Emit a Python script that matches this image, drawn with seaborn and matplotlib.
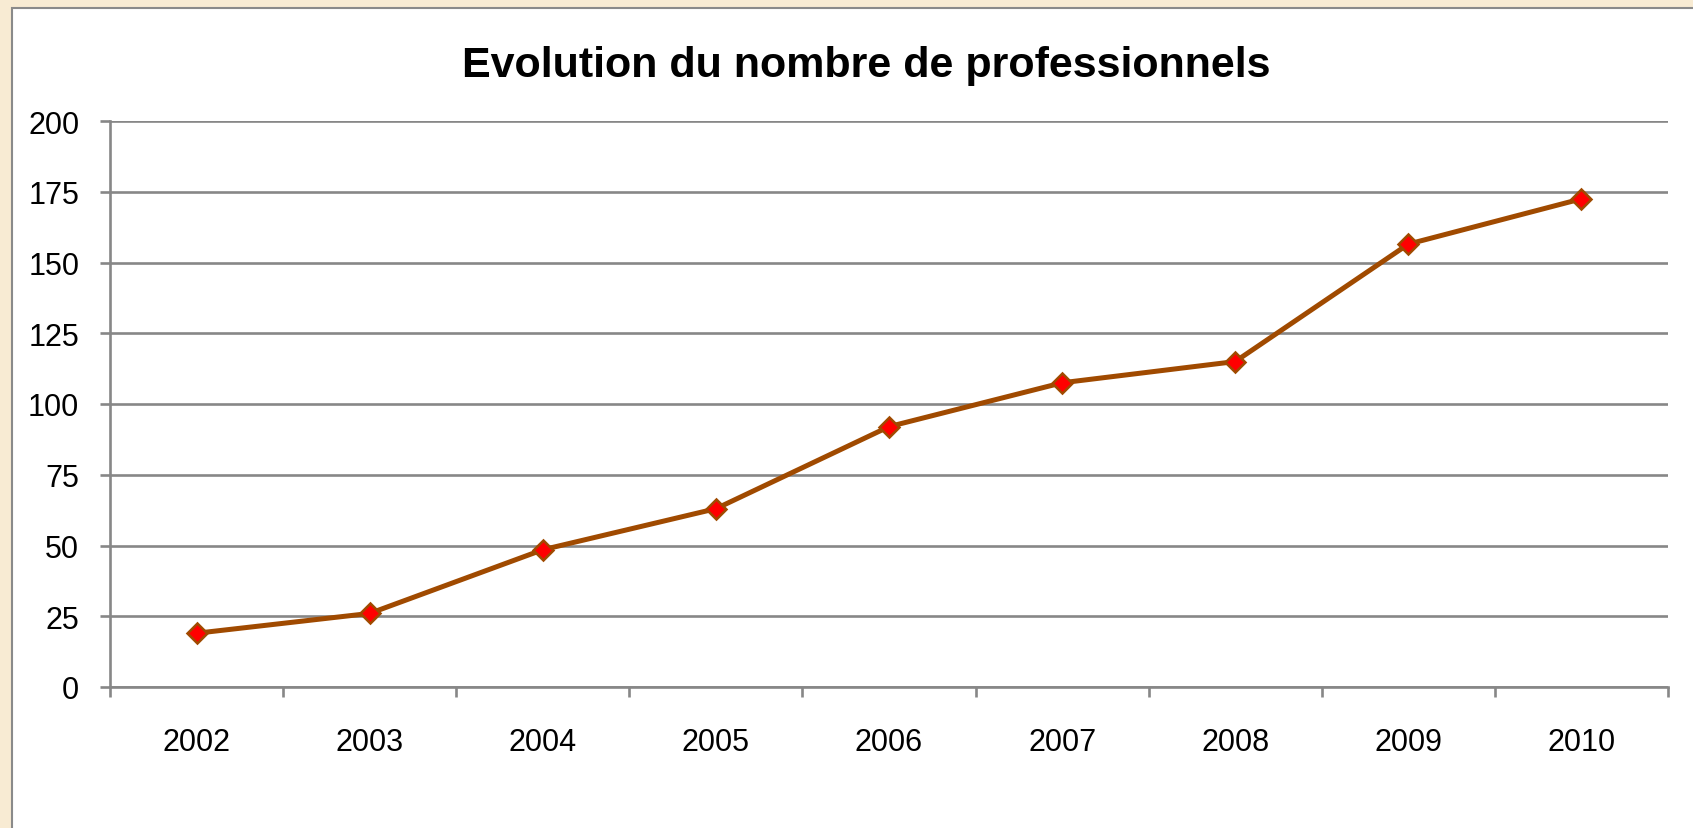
import matplotlib
matplotlib.use("Agg")
import matplotlib.pyplot as plt
from matplotlib import font_manager
from matplotlib.patches import Rectangle
from matplotlib.ticker import FixedLocator
import seaborn as sns

# Data
years = [2002, 2003, 2004, 2005, 2006, 2007, 2008, 2009, 2010]
professionnels = [19, 26, 48.5, 63, 92, 107.5, 115, 156.5, 172.5]
y_ticks = [0, 25, 50, 75, 100, 125, 150, 175, 200]
title = "Evolution du nombre de professionnels"

sns.set_theme(style="white")
installed = {f.name for f in font_manager.fontManager.ttflist}
narrow = "Liberation Sans Narrow" if "Liberation Sans Narrow" in installed else "Liberation Sans"
plt.rcParams["font.family"] = [narrow, "DejaVu Sans"]
label_size = 24 if narrow.endswith("Narrow") else 22
title_size = 35 if narrow.endswith("Narrow") else 31

W, H = 1693, 829
fig = plt.figure(figsize=(W / 100, H / 100), dpi=100, facecolor="#f8ebd3")

# white chart panel with gray frame
fig.patches.append(Rectangle((12 / W, -0.1), 1.2, 1 - 9 / H + 0.1,
                             transform=fig.transFigure, facecolor="white",
                             edgecolor="#8a8a8a", linewidth=1.5, zorder=-1))

ax = fig.add_axes([110 / W, 1 - 688 / H, (1668 - 110) / W, (688 - 122) / H])
ax.set_facecolor("none")

sns.lineplot(x=years, y=professionnels, ax=ax, color="#a04a00", linewidth=3.6,
             marker="D", markersize=10.5, markerfacecolor="#ff0000",
             markeredgecolor="#a04a00", markeredgewidth=1.8, zorder=3)

ax.set_xlim(years[0] - 0.5, years[-1] + 0.5)
ax.set_ylim(y_ticks[0], y_ticks[-1])
ax.set_yticks(y_ticks)
ax.set_xticks(years)
ax.xaxis.set_minor_locator(FixedLocator([y - 0.5 for y in years] + [years[-1] + 0.5]))

grid_col = "#878787"
ax.grid(axis="y", color=grid_col, linewidth=1.9)
ax.set_axisbelow(True)
for side in ["top", "right"]:
    ax.spines[side].set_visible(False)
for side in ["left", "bottom"]:
    ax.spines[side].set_color(grid_col)
    ax.spines[side].set_linewidth(1.9)

ax.tick_params(axis="y", which="major", direction="out", length=7.2, width=1.9,
               color=grid_col, pad=15, labelsize=label_size, labelcolor="black", left=True)
ax.tick_params(axis="x", which="major", length=0, pad=29, labelsize=label_size,
               labelcolor="black", bottom=True)
ax.tick_params(axis="x", which="minor", direction="out", length=7.2, width=1.9,
               color=grid_col, bottom=True)
ax.set_xlabel("")
ax.set_ylabel("")

fig.text(866 / W, 1 - 66 / H, title, ha="center", va="center",
         fontsize=title_size, fontweight="bold", color="black")

fig.savefig("out.png", dpi=100, facecolor=fig.get_facecolor())
